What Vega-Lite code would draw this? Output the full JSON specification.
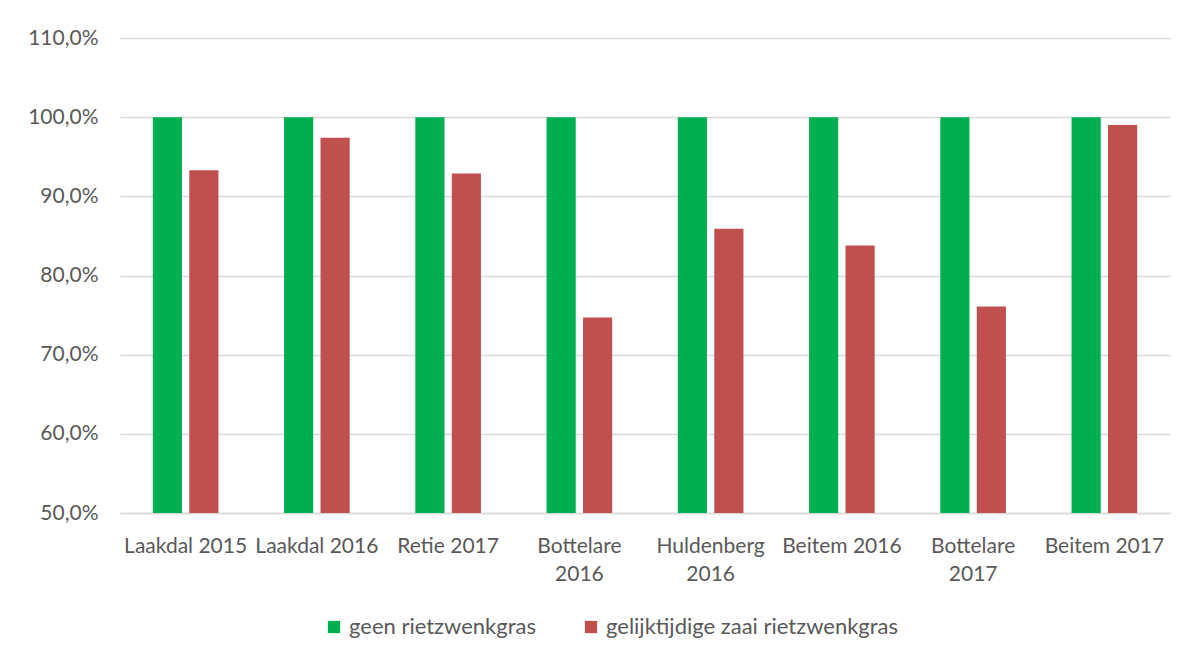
{
  "$schema": "https://vega.github.io/schema/vega-lite/v6.json",
  "width": 1050,
  "height": 475,
  "autosize": {"type": "none"},
  "padding": {"left": 120, "top": 38, "right": 21, "bottom": 145},
  "background": "white",
  "config": {
    "view": {"stroke": null},
    "font": "Lato",
    "axis": {"labelFont": "Lato", "labelColor": "#595959", "labelFontSize": 21},
    "legend": {"labelFont": "Lato", "labelColor": "#595959", "labelFontSize": 22}
  },
  "data": {
    "values": [
      {"locatie": "Laakdal 2015", "behandeling": "geen rietzwenkgras", "waarde": 1.0},
      {"locatie": "Laakdal 2015", "behandeling": "gelijktijdige zaai rietzwenkgras", "waarde": 0.933},
      {"locatie": "Laakdal 2016", "behandeling": "geen rietzwenkgras", "waarde": 1.0},
      {"locatie": "Laakdal 2016", "behandeling": "gelijktijdige zaai rietzwenkgras", "waarde": 0.974},
      {"locatie": "Retie 2017", "behandeling": "geen rietzwenkgras", "waarde": 1.0},
      {"locatie": "Retie 2017", "behandeling": "gelijktijdige zaai rietzwenkgras", "waarde": 0.929},
      {"locatie": "Bottelare 2016", "behandeling": "geen rietzwenkgras", "waarde": 1.0},
      {"locatie": "Bottelare 2016", "behandeling": "gelijktijdige zaai rietzwenkgras", "waarde": 0.747},
      {"locatie": "Huldenberg 2016", "behandeling": "geen rietzwenkgras", "waarde": 1.0},
      {"locatie": "Huldenberg 2016", "behandeling": "gelijktijdige zaai rietzwenkgras", "waarde": 0.859},
      {"locatie": "Beitem 2016", "behandeling": "geen rietzwenkgras", "waarde": 1.0},
      {"locatie": "Beitem 2016", "behandeling": "gelijktijdige zaai rietzwenkgras", "waarde": 0.838},
      {"locatie": "Bottelare 2017", "behandeling": "geen rietzwenkgras", "waarde": 1.0},
      {"locatie": "Bottelare 2017", "behandeling": "gelijktijdige zaai rietzwenkgras", "waarde": 0.761},
      {"locatie": "Beitem 2017", "behandeling": "geen rietzwenkgras", "waarde": 1.0},
      {"locatie": "Beitem 2017", "behandeling": "gelijktijdige zaai rietzwenkgras", "waarde": 0.990}
    ]
  },
  "mark": {"type": "bar", "clip": true},
  "encoding": {
    "x": {
      "field": "locatie",
      "type": "nominal",
      "sort": null,
      "scale": {"paddingInner": 0.5, "paddingOuter": 0.25},
      "axis": {
        "title": null,
        "labelAngle": 0,
        "ticks": false,
        "domainColor": "#d9d9d9",
        "domainWidth": 1.5,
        "labelPadding": 22,
        "labelLineHeight": 28,
        "labelLimit": 200,
        "labelExpr": "length(datum.value) >= 14 ? split(datum.value, ' ') : datum.value"
      }
    },
    "xOffset": {
      "field": "behandeling",
      "type": "nominal",
      "sort": null,
      "scale": {"paddingInner": 0.2}
    },
    "y": {
      "field": "waarde",
      "type": "quantitative",
      "scale": {"domain": [0.5, 1.1], "zero": false, "nice": false},
      "axis": {
        "title": null,
        "values": [0.5, 0.6, 0.7, 0.8, 0.9, 1.0, 1.1],
        "domain": false,
        "ticks": false,
        "gridColor": "#d9d9d9",
        "gridWidth": 1.5,
        "labelPadding": 22,
        "labelExpr": "replace(format(datum.value, '.1%'), '.', ',')"
      }
    },
    "color": {
      "field": "behandeling",
      "type": "nominal",
      "sort": null,
      "scale": {"range": ["#00b050", "#c0504d"]},
      "legend": {
        "title": null,
        "orient": "none",
        "direction": "horizontal",
        "legendX": 203,
        "legendY": 578,
        "symbolType": "square",
        "symbolSize": 150,
        "symbolOffset": 0,
        "labelOffset": 4,
        "labelLimit": 400,
        "columnPadding": 44
      }
    }
  }
}
